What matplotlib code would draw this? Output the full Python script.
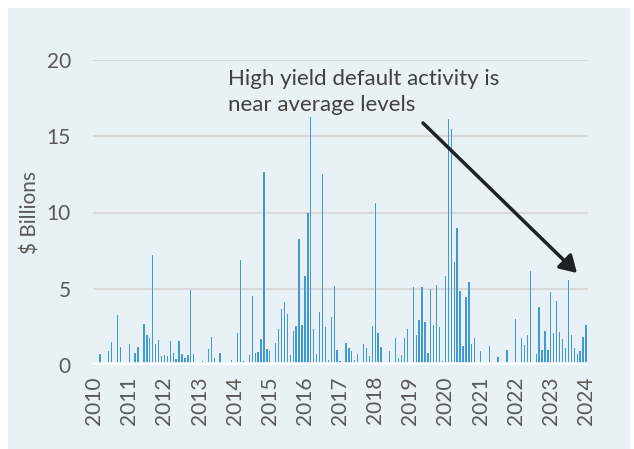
import matplotlib
matplotlib.use("Agg")
import matplotlib.pyplot as plt
from matplotlib.patches import Rectangle, FancyArrowPatch
import numpy as np

# Monthly high-yield default volume ($ billions), Jan 2010 .. Jan 2024 (169 months)
nonzero = {
    2: 0.72, 5: 0.94, 6: 1.53, 8: 3.28, 9: 1.18, 12: 1.36, 14: 0.77, 15: 1.2,
    17: 2.69, 18: 1.95, 19: 1.77, 20: 7.19, 21: 1.4, 22: 1.64, 23: 0.61, 24: 0.66,
    25: 0.59, 26: 1.6, 27: 0.81, 28: 0.39, 29: 1.57, 30: 0.7, 31: 0.48, 32: 0.66,
    33: 4.9, 34: 0.7, 36: 0.18, 37: 0.24, 38: 0.2, 39: 1.05, 40: 1.84, 41: 0.46,
    43: 0.77, 45: 0.2, 47: 0.3, 48: 0.2, 49: 2.12, 50: 6.89, 51: 0.24, 53: 0.66,
    54: 4.52, 55: 0.77, 56: 0.87, 57: 1.73, 58: 12.68, 59: 1.07, 60: 0.92,
    62: 1.42, 63: 2.34, 64: 3.67, 65: 4.13, 66: 3.32, 67: 0.66, 68: 2.23, 69: 2.58,
    70: 8.26, 71: 2.6, 72: 5.84, 73: 9.99, 74: 16.24, 75: 2.38, 76: 0.72, 77: 3.45,
    78: 12.52, 79: 2.47, 80: 0.33, 81: 3.17, 82: 5.18, 83: 0.98, 84: 0.26,
    86: 1.42, 87: 1.09, 88: 0.92, 89: 0.33, 90: 0.72, 92: 1.38, 93: 1.11, 94: 0.59,
    95: 2.58, 96: 10.6, 97: 2.12, 98: 1.16, 101: 0.94, 103: 1.77, 104: 0.48,
    105: 0.66, 106: 1.77, 107: 2.36, 109: 5.09, 110: 1.95, 111: 2.95, 112: 5.09,
    113: 2.84, 114: 0.77, 115: 4.98, 116: 2.62, 117: 5.22, 118: 2.49, 119: 0.26,
    120: 5.84, 121: 16.1, 122: 15.45, 123: 6.73, 124: 9.0, 125: 4.83, 126: 1.25,
    127: 4.44, 128: 5.42, 129: 1.36, 130: 1.75, 132: 0.92, 135: 1.25, 138: 0.52,
    141: 0.98, 144: 3.02, 146: 1.75, 147: 1.31, 148: 1.97, 149: 6.14, 151: 0.72,
    152: 3.82, 153: 0.98, 154: 2.23, 155: 0.98, 156: 4.77, 157: 2.08, 158: 4.18,
    159: 2.16, 160: 1.73, 161: 1.13, 162: 5.57, 163: 1.97, 164: 1.11, 165: 0.72,
    166: 0.94, 167: 1.84, 168: 2.64,
}
n_months = 169
months = np.arange(n_months)
values = np.array([nonzero.get(i, 0.0) for i in months])

years = list(range(2010, 2025))
year_pos = [12 * k for k in range(len(years))]
y_ticks = [0, 5, 10, 15, 20]

W, H = 634, 449
fig = plt.figure(figsize=(W / 100, H / 100), dpi=100, facecolor="white")
panel_color = "#e8f1f5"
fig.patches.append(Rectangle((8 / W, 0), (630 - 8) / W, (H - 8) / H,
                             transform=fig.transFigure, facecolor=panel_color,
                             edgecolor="none", zorder=-10))

ax = fig.add_axes([93 / W, 1 - 365 / H, (588 - 93) / W, (365 - 60) / H])
ax.set_zorder(1)
ax.set_facecolor("none")
ax.bar(months, values, width=0.45, color="#4399d2", zorder=2)
ax.set_xlim(-0.4, 168.7)
ax.set_ylim(0, 20)
ax.set_yticks(y_ticks)
ax.set_xticks(year_pos)
ax.set_xticklabels([str(y) for y in years], rotation=90)
for s in ax.spines.values():
    s.set_visible(False)
ax.grid(axis="y", color="#d9d9d9", linewidth=1.5, zorder=1)
ax.set_axisbelow(True)
ax.tick_params(axis="both", length=0, labelsize=15, labelcolor="#595959")
ax.tick_params(axis="y", pad=16)
ax.tick_params(axis="x", pad=8)
for lab in ax.get_xticklabels() + ax.get_yticklabels():
    lab.set_family("Lato")
ax.axhline(0, color="white", linewidth=4, zorder=3)
ax.set_ylabel(r"\$ Billions", fontsize=15, color="#595959", family="Lato", labelpad=4)

fig.text(228 / W, 1 - 92 / H, "High yield default activity is\nnear average levels",
         fontsize=16, color="#404040", family="Lato", va="center", ha="left",
         linespacing=1.35, zorder=5)
fig.add_artist(FancyArrowPatch(
    (423 / W, 1 - 123 / H), (577 / W, 1 - 273 / H), transform=fig.transFigure,
    arrowstyle="-|>,head_length=10,head_width=6", color="#1e2226", lw=2.5,
    shrinkA=0, shrinkB=0, zorder=6))

fig.savefig("out.png", dpi=100, facecolor="white")
